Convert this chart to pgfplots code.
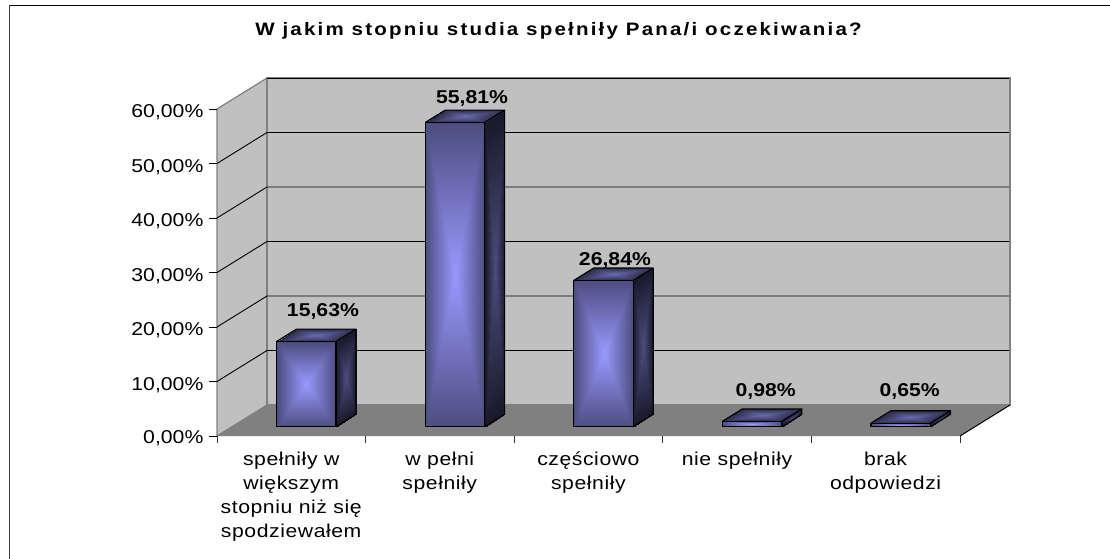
\documentclass[border=0pt]{standalone}
\usepackage{pgfplots}
\pgfplotsset{compat=1.18}
\usepackage{fontspec}
\setmainfont[FakeStretch=1.14]{Liberation Sans}
\newfontfamily\labfont[FakeStretch=1.14,LetterSpace=3]{Liberation Sans}
\newfontfamily\titlefont[FakeStretch=1.14,LetterSpace=12.2]{Liberation Sans}
\definecolor{wall}{HTML}{C0C0C0}
\definecolor{floorc}{HTML}{808080}
% x: category slots, y: depth (0 front, 1 back), z: percent
\newcommand{\gridz}[1]{%
  \addplot3[black,line width=0.9pt,no markers] coordinates {(0,0,#1) (0,1,#1) (5,1,#1)};
  \addplot3[black,line width=0.9pt,no markers] coordinates {(-0.054,0,#1) (0,0,#1)};}
\newcommand{\tickx}[1]{%
  \addplot3[black!80,line width=0.9pt,no markers] coordinates {(#1,0,-1.25) (#1,0,0)};}
% #1 left x, #2 centre x, #3 right x, #4 value, #5 half value
\newcommand{\pbar}[5]{%
  % side face
  \addplot3[patch,patch type=triangle,shader=interp,point meta=explicit] coordinates {
   (#3,0.3,0) [0.16] (#3,0.7,0) [0.16] (#3,0.5,#5) [0.50]
   (#3,0.7,0) [0.16] (#3,0.7,#4) [0.16] (#3,0.5,#5) [0.50]
   (#3,0.7,#4) [0.16] (#3,0.3,#4) [0.16] (#3,0.5,#5) [0.50]
   (#3,0.3,#4) [0.16] (#3,0.3,0) [0.16] (#3,0.5,#5) [0.50]};
  % top face
  \addplot3[patch,patch type=triangle,shader=interp,point meta=explicit] coordinates {
   (#1,0.3,#4) [0.30] (#3,0.3,#4) [0.30] (#2,0.5,#4) [0.70]
   (#3,0.3,#4) [0.30] (#3,0.7,#4) [0.30] (#2,0.5,#4) [0.70]
   (#3,0.7,#4) [0.30] (#1,0.7,#4) [0.30] (#2,0.5,#4) [0.70]
   (#1,0.7,#4) [0.30] (#1,0.3,#4) [0.30] (#2,0.5,#4) [0.70]};
  % front face
  \addplot3[patch,patch type=triangle,shader=interp,point meta=explicit] coordinates {
   (#1,0.3,0) [0.50] (#3,0.3,0) [0.50] (#2,0.3,#5) [1]
   (#3,0.3,0) [0.50] (#3,0.3,#4) [0.50] (#2,0.3,#5) [1]
   (#3,0.3,#4) [0.50] (#1,0.3,#4) [0.50] (#2,0.3,#5) [1]
   (#1,0.3,#4) [0.50] (#1,0.3,0) [0.50] (#2,0.3,#5) [1]};
  % outlines
  \addplot3[black,line width=1.2pt,no markers,line join=round] coordinates {
   (#1,0.3,0) (#3,0.3,0) (#3,0.3,#4) (#1,0.3,#4) (#1,0.3,0)};
  \addplot3[black,line width=1.2pt,no markers,line join=round] coordinates {
   (#1,0.3,#4) (#1,0.7,#4) (#3,0.7,#4) (#3,0.3,#4)};
  \addplot3[black,line width=1.2pt,no markers,line join=round] coordinates {
   (#3,0.7,#4) (#3,0.7,0) (#3,0.3,0)};
}
\begin{document}
\begin{tikzpicture}[x=1pt,y=1pt]
\path[use as bounding box] (0,0) rectangle (1110,559);
\draw[color=black!75,line width=1.4pt] (9.5,0) -- (9.5,553.7);
\draw[black,line width=1.4pt] (9.5,553.7) -- (1110,553.7);
\node[font=\fontsize{18}{20}\titlefont\bfseries] at (558.5,528) {W jakim stopniu studia spełniły Pana/i oczekiwania?};
\begin{axis}[
  at={(217pt,123pt)},anchor=origin,
  x={(148.6pt,0pt)},y={(50pt,31pt)},z={(0pt,5.45pt)},
  xmin=0,xmax=5,ymin=0,ymax=1,zmin=0,zmax=60,
  clip=false,
  axis x line*=bottom,axis y line=none,axis z line*=left,
  axis line style={black,line width=1pt,-},
  xtick={0.5,1.5,2.5,3.5,4.5},
  xticklabels={{spełniły w\\większym\\stopniu niż się\\spodziewałem},{w pełni\\spełniły},{częściowo\\spełniły},{nie spełniły},{brak\\odpowiedzi}},
  xticklabel style={align=center,anchor=north,font=\fontsize{18.6}{24}\labfont,xshift=5pt,yshift=-9pt},
  xtick style={draw=none},
  ztick={0,10,20,30,40,50,60},
  zticklabels={{0,00\%},{10,00\%},{20,00\%},{30,00\%},{40,00\%},{50,00\%},{60,00\%}},
  zticklabel style={font=\fontsize{18.6}{20}\selectfont,xshift=-5pt,yshift=11pt},
  ztick style={draw=none},
  major tick length=6pt,
  tick align=outside,
  grid=none,
  colormap={barblue}{rgb255(0)=(0,0,0); rgb255(1000)=(153,153,255)},
  point meta min=0,point meta max=1,
]
% walls and floor
\addplot3[fill=wall,draw=floorc,line width=1.2pt,no markers] coordinates {(0,0,0) (0,1,0) (0,1,60) (0,0,60) (0,0,0)};
\addplot3[fill=wall,draw=floorc,line width=1.2pt,no markers] coordinates {(0,1,0) (5,1,0) (5,1,60) (0,1,60) (0,1,0)};
\gridz{10}\gridz{20}\gridz{30}\gridz{40}\gridz{50}
\addplot3[black,line width=0.9pt,no markers] coordinates {(0,1,60) (5,1,60)};
\addplot3[black,line width=0.9pt,no markers] coordinates {(-0.054,0,60) (0,0,60)};
\addplot3[black,line width=0.9pt,no markers] coordinates {(-0.054,0,0) (0,0,0)};
\addplot3[floorc,line width=2pt,no markers] coordinates {(5,1,0) (5,1,60)};
\addplot3[fill=floorc,draw=floorc,no markers] coordinates {(0,0,0) (5,0,0) (5,1,0) (0,1,0) (0,0,0)};
\addplot3[black,line width=1pt,no markers] coordinates {(5,0,0) (5,1,0)};
\tickx{0}\tickx{1}\tickx{2}\tickx{3}\tickx{4}\tickx{5}
% bars
\pbar{0.3}{0.5}{0.7}{15.63}{7.8}
\pbar{1.3}{1.5}{1.7}{55.81}{27.9}
\pbar{2.3}{2.5}{2.7}{26.84}{13.4}
\pbar{3.3}{3.5}{3.7}{0.98}{0.49}
\pbar{4.3}{4.5}{4.7}{0.65}{0.32}
% value labels
\node[font=\fontsize{18.6}{20}\selectfont\bfseries] at (axis cs:0.713,0,22.94) {15,63\%};
\node[font=\fontsize{18.6}{20}\selectfont\bfseries] at (axis cs:1.716,0,61.85) {55,81\%};
\node[font=\fontsize{18.6}{20}\selectfont\bfseries] at (axis cs:2.678,0,32.3) {26,84\%};
\node[font=\fontsize{18.6}{20}\selectfont\bfseries] at (axis cs:3.692,0,8.13) {0,98\%};
\node[font=\fontsize{18.6}{20}\selectfont\bfseries] at (axis cs:4.661,0,8.13) {0,65\%};
\end{axis}
\end{tikzpicture}
\end{document}
